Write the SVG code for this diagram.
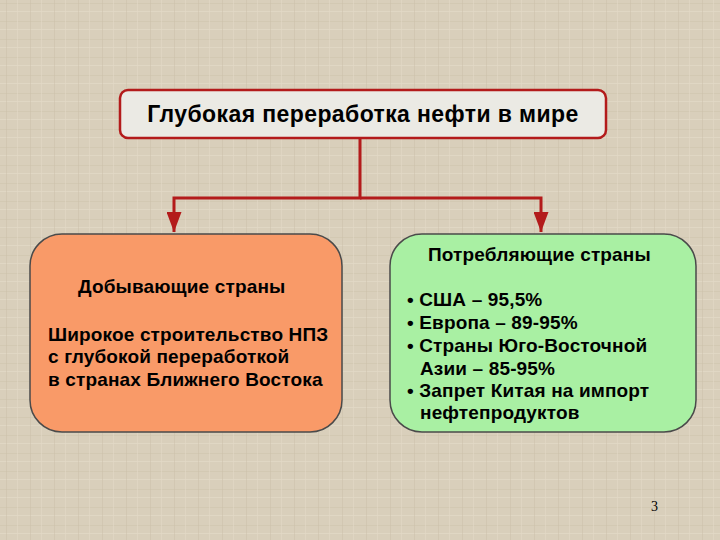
<svg xmlns="http://www.w3.org/2000/svg" width="720" height="540" viewBox="0 0 720 540">
<defs>
<pattern id="tex" width="24" height="18" patternUnits="userSpaceOnUse">
<rect width="24" height="18" fill="#d9cfbb"/>
<rect x="0" y="3" width="24" height="1" fill="#cfc4ae" opacity="0.6"/>
<rect x="0" y="11" width="24" height="1" fill="#e3dac8" opacity="0.7"/>
<rect x="6" y="0" width="1" height="18" fill="#cbc0aa" opacity="0.5"/>
<rect x="17" y="0" width="1" height="18" fill="#e2d9c6" opacity="0.6"/>
</pattern>
<marker id="arr" viewBox="0 0 20 15" refX="20" refY="7.5" markerWidth="6.7" markerHeight="5" orient="auto" markerUnits="strokeWidth">
<path d="M0,0 L20,7.5 L0,15 z" fill="#b31b1b"/>
</marker>
<style>
.t{font-family:"Liberation Sans",Arial,sans-serif;font-weight:bold;fill:#000;}
.conn{fill:none;stroke:#b31b1b;stroke-width:3;}
</style>
</defs>
<rect width="720" height="540" fill="url(#tex)"/>
<g id="connectors">
<path class="conn" d="M360,138 V198 H174 V232" marker-end="url(#arr)"/>
<path class="conn" d="M360,198 H541 V232" marker-end="url(#arr)"/>
</g>
<g id="title">
<rect x="120" y="90" width="486" height="48" rx="8" fill="#ebeae4" stroke="#b31b1b" stroke-width="2.5"/>
<text class="t" x="363" y="122" font-size="23" letter-spacing="0.4" text-anchor="middle">Глубокая переработка нефти в мире</text>
</g>
<g id="producers">
<rect x="30" y="234" width="312" height="198" rx="32" fill="#f99a68" stroke="#4a4a4a" stroke-width="1.5"/>
<text class="t" font-size="19" letter-spacing="0.15"><tspan x="78" y="293">Добывающие страны</tspan><tspan x="48" y="341">Широкое строительство НПЗ</tspan><tspan x="48" y="363">с глубокой переработкой</tspan><tspan x="48" y="386">в странах Ближнего Востока</tspan></text>
</g>
<g id="consumers">
<rect x="390" y="234" width="306" height="198" rx="32" fill="#a9f0a3" stroke="#4a4a4a" stroke-width="1.5"/>
<text class="t" font-size="19" letter-spacing="0.15"><tspan x="428" y="261">Потребляющие страны</tspan><tspan x="407" y="306">• США – 95,5%</tspan><tspan x="407" y="329">• Европа – 89-95%</tspan><tspan x="407" y="352">• Страны Юго-Восточной</tspan><tspan x="420" y="375">Азии – 85-95%</tspan><tspan x="407" y="397">• Запрет Китая на импорт</tspan><tspan x="420" y="419">нефтепродуктов</tspan></text>
</g>
<text x="651" y="511" font-family="Liberation Serif,serif" font-size="14" fill="#000">3</text>
</svg>
